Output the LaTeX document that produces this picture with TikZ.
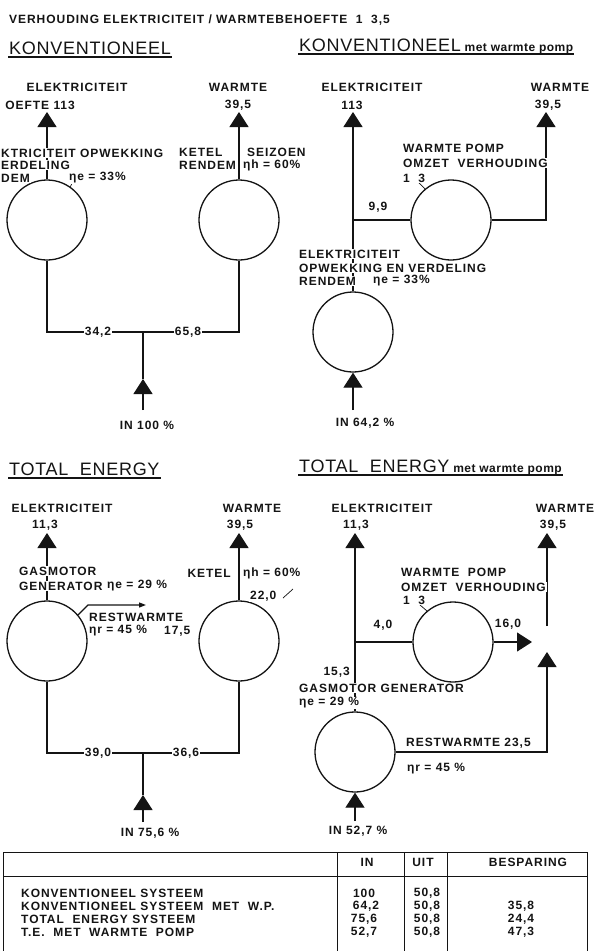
\documentclass[tikz,border=0pt]{standalone}
\usepackage{fontspec}
\setmainfont{Liberation Sans}[LetterSpace=8]
\newfontfamily\titlefam{Liberation Sans}[LetterSpace=4]
\usetikzlibrary{arrows.meta,positioning}
\definecolor{Ink}{HTML}{141414}
\newcommand{\lblfont}{\fontsize{12}{14}\selectfont\bfseries}
\newcommand{\headfont}{\titlefam\fontsize{18}{20}\selectfont}
\newcommand{\subfont}{\fontsize{12}{13}\selectfont\bfseries}
\tikzset{
  unit/.style={circle,draw=Ink,line width=1.3pt,minimum size=80pt,inner sep=0pt},
  pipe/.style={line width=1.2pt,draw=Ink},
  flow/.style={pipe,-{Triangle[length=15pt,width=19pt]}},
  restflow/.style={pipe,-{Triangle[length=7pt,width=5pt]}},
  leader/.style={line width=0.7pt,draw=Ink},
  lbl/.style={font=\lblfont,text=Ink,inner sep=1pt,fill=white},
  head/.style={font=\headfont,text=Ink,inner sep=1pt,anchor=west},
  rule/.style={line width=1.6pt,draw=Ink},
  grid/.style={line width=0.8pt,draw=Ink}
}
\begin{document}
\begin{tikzpicture}[x=1pt,y=-1pt]
\useasboundingbox[fill=white] (0,0) rectangle (597,951);

% titles
\node[lbl,anchor=west] (ratio) at (8,20) {VERHOUDING ELEKTRICITEIT / WARMTEBEHOEFTE\ \ 1\ \ 3,5};
\node[head] (konv) at (8,48) {KONVENTIONEEL};
\draw[rule] ([yshift=-3pt]konv.base west) -- ([yshift=-3pt]konv.base east);
\node[head] (konvwp) at (298,46) {KONVENTIONEEL{\subfont\ met warmte pomp}};
\draw[rule] ([yshift=-3pt]konvwp.base west) -- ([yshift=-3pt]konvwp.base east);

% konventioneel
\node[unit] (k1e) at (47,220) {};
\node[unit] (k1w) at (239,220) {};
\coordinate (k1et) at (47,112);
\coordinate (k1wt) at (239,112);
\coordinate (k1j) at (143,332);
\coordinate (k1a) at (143,379);
\coordinate (k1in) at (143,410);
\draw[flow] (k1e) -- (k1et);
\draw[flow] (k1w) -- (k1wt);
\draw[pipe] (k1e.south) |- (k1j) -| (k1w.south);
\draw[flow] (k1in) -- (k1a);
\draw[pipe] (k1a) -- (k1j);
\draw[leader] (k1e.55) -- ++(3,-6);
\node[lbl] (k1el) at (77,87) {ELEKTRICITEIT};
\node[lbl,anchor=east] (k1eq) at (76,105) {OEFTE 113};
\node[lbl,anchor=west] (k1d1) at (0,153) {KTRICITEIT OPWEKKING};
\node[lbl,anchor=west] (k1d2) at (0,165) {ERDELING};
\node[lbl,anchor=west] (k1d3) at (0,178) {DEM};
\node[lbl,anchor=west] (k1eta) at (68,178) {ηe = 33\%};
\node[lbl] (k1wl) at (238,87) {WARMTE};
\node[lbl] (k1wq) at (238,105) {39,5};
\node[lbl,anchor=west] (k1ketel) at (178,152) {KETEL};
\node[lbl,anchor=west] (k1seiz) at (246,152) {SEIZOEN};
\node[lbl,anchor=west] (k1rend) at (178,165) {RENDEM};
\node[lbl,anchor=west] (k1etah) at (242,165) {ηh = 60\%};
\node[lbl] (k1ve) at (98,332) {34,2};
\node[lbl] (k1vw) at (188,332) {65,8};
\node[lbl] (k1inl) at (147,425) {IN 100 \%};

% konventioneel met warmte pomp
\node[unit] (k2p) at (451,220) {};
\node[unit] (k2g) at (353,332) {};
\coordinate (k2et) at (353,112);
\coordinate (k2j) at (353,220);
\coordinate (k2wt) at (546,112);
\coordinate (k2in) at (353,410);
\draw[flow] (k2g) -- (k2et);
\draw[pipe] (k2j) -- (k2p.west);
\draw[flow] (k2p.east) -| (k2wt);
\draw[flow] (k2in) -- (k2g);
\draw[leader] (k2p.130) -- ++(-6,-6);
\node[lbl] (k2el) at (372,87) {ELEKTRICITEIT};
\node[lbl] (k2eq) at (352,105) {113};
\node[lbl] (k2wl) at (560,87) {WARMTE};
\node[lbl] (k2wq) at (548,105) {39,5};
\node[lbl,anchor=west] (k2p1) at (402,148) {WARMTE POMP};
\node[lbl,anchor=west] (k2p2) at (402,163) {OMZET\ \ VERHOUDING};
\node[lbl,anchor=west] (k2p3) at (402,178) {1\ \ 3};
\node[lbl] (k2v) at (378,207) {9,9};
\node[lbl,anchor=west] (k2g1) at (298,254) {ELEKTRICITEIT};
\node[lbl,anchor=west] (k2g2) at (298,268) {OPWEKKING EN VERDELING};
\node[lbl,anchor=west] (k2g3) at (298,281) {RENDEM};
\node[lbl,anchor=west] (k2eta) at (372,281) {ηe = 33\%};
\node[lbl] (k2inl) at (365,423) {IN 64,2 \%};

% total energy
\node[head] (te) at (8,469) {TOTAL\ \ ENERGY};
\draw[rule] ([yshift=-3pt]te.base west) -- ([yshift=-3pt]te.base east);
\node[unit] (t1e) at (47,641) {};
\node[unit] (t1w) at (239,641) {};
\coordinate (t1et) at (47,533);
\coordinate (t1wt) at (239,533);
\coordinate (t1j) at (143,753);
\coordinate (t1a) at (143,795);
\coordinate (t1in) at (143,822);
\coordinate (t1rk) at (88,605);
\coordinate (t1rw) at (146,605);
\draw[flow] (t1e) -- (t1et);
\draw[flow] (t1w) -- (t1wt);
\draw[pipe] (t1e.south) |- (t1j) -| (t1w.south);
\draw[flow] (t1in) -- (t1a);
\draw[pipe] (t1a) -- (t1j);
\draw[restflow] (t1e.40) -- (t1rk) -- (t1rw);
\node[lbl] (t1el) at (62,508) {ELEKTRICITEIT};
\node[lbl] (t1eq) at (45,525) {11,3};
\node[lbl,anchor=west] (t1g1) at (18,571) {GASMOTOR};
\node[lbl,anchor=west] (t1g2) at (18,586) {GENERATOR};
\node[lbl,anchor=west] (t1eta) at (106,586) {ηe = 29 \%};
\node[lbl,anchor=west] (t1r1) at (88,617) {RESTWARMTE};
\node[lbl,anchor=west] (t1r2) at (88,631) {ηr = 45 \%};
\node[lbl,anchor=west] (t1rv) at (163,631) {17,5};
\node[lbl] (t1wl) at (252,508) {WARMTE};
\node[lbl] (t1wq) at (240,525) {39,5};
\node[lbl,anchor=east] (t1ketel) at (232,573) {KETEL};
\node[lbl,anchor=west] (t1etah) at (242,573) {ηh = 60\%};
\node[lbl,anchor=west] (t1kv) at (249,596) {22,0};
\draw[leader] (283,598) -- (293,589);
\node[lbl] (t1ve) at (98,753) {39,0};
\node[lbl] (t1vw) at (186,753) {36,6};
\node[lbl] (t1inl) at (150,833) {IN 75,6 \%};

% total energy met warmte pomp
\node[head] (tewp) at (298,467) {TOTAL\ \ ENERGY{\subfont\ met warmte pomp}};
\draw[rule] ([yshift=-3pt]tewp.base west) -- ([yshift=-3pt]tewp.base east);
\node[unit] (t2p) at (453,642) {};
\node[unit] (t2g) at (355,752) {};
\coordinate (t2et) at (355,533);
\coordinate (t2j) at (355,642);
\coordinate (t2ht) at (532,642);
\coordinate (t2ws) at (547,626);
\coordinate (t2wt) at (547,533);
\coordinate (t2rt) at (547,652);
\coordinate (t2in) at (355,821);
\draw[flow] (t2g) -- (t2et);
\draw[pipe] (t2j) -- (t2p.west);
\draw[flow] (t2p.east) -- (t2ht);
\draw[flow] (t2ws) -- (t2wt);
\draw[flow] (t2g.east) -| (t2rt);
\draw[flow] (t2in) -- (t2g);
\draw[leader] (t2p.130) -- ++(-7,-6);
\node[lbl] (t2el) at (382,508) {ELEKTRICITEIT};
\node[lbl] (t2eq) at (356,525) {11,3};
\node[lbl] (t2wl) at (565,508) {WARMTE};
\node[lbl] (t2wq) at (553,525) {39,5};
\node[lbl,anchor=west] (t2p1) at (400,572) {WARMTE\ \ POMP};
\node[lbl,anchor=west] (t2p2) at (400,587) {OMZET\ \ VERHOUDING};
\node[lbl,anchor=west] (t2p3) at (402,600) {1\ \ 3};
\node[lbl] (t2vp) at (383,625) {4,0};
\node[lbl] (t2vh) at (508,624) {16,0};
\node[lbl,anchor=east] (t2vg) at (351,672) {15,3};
\node[lbl,anchor=west] (t2g1) at (298,688) {GASMOTOR GENERATOR};
\node[lbl,anchor=west] (t2eta) at (298,703) {ηe = 29 \%};
\node[lbl,anchor=west] (t2r1) at (405,743) {RESTWARMTE 23,5};
\node[lbl,anchor=west] (t2r2) at (406,769) {ηr = 45 \%};
\node[lbl] (t2inl) at (358,831) {IN 52,7 \%};

% tabel
\draw[grid] (3,951) -- (3,852) -- (587,852) -- (587,951);
\draw[grid] (3,876) -- (587,876);
\draw[grid] (337,852) -- (337,951);
\draw[grid] (404,852) -- (404,951);
\draw[grid] (447,852) -- (447,951);
\node[lbl] (hin) at (367,862) {IN};
\node[lbl] (huit) at (423,862) {UIT};
\node[lbl] (hbesp) at (528,862) {BESPARING};
\node[lbl,anchor=west] (r1) at (20,893) {KONVENTIONEEL SYSTEEM};
\node[lbl,anchor=west] (r2) at (20,906) {KONVENTIONEEL SYSTEEM\ \ MET\ \ W.P.};
\node[lbl,anchor=west] (r3) at (20,919) {TOTAL\ \ ENERGY SYSTEEM};
\node[lbl,anchor=west] (r4) at (20,932) {T.E.\ \ MET\ \ WARMTE\ \ POMP};
\node[lbl] (r1in) at (364,893) {100};
\node[lbl] (r2in) at (366,906) {64,2};
\node[lbl] (r3in) at (364,919) {75,6};
\node[lbl] (r4in) at (364,932) {52,7};
\node[lbl] (r1uit) at (427,893) {50,8};
\node[lbl] (r2uit) at (427,906) {50,8};
\node[lbl] (r3uit) at (427,919) {50,8};
\node[lbl] (r4uit) at (427,932) {50,8};
\node[lbl] (r2b) at (521,906) {35,8};
\node[lbl] (r3b) at (521,919) {24,4};
\node[lbl] (r4b) at (521,932) {47,3};
\end{tikzpicture}
\end{document}
